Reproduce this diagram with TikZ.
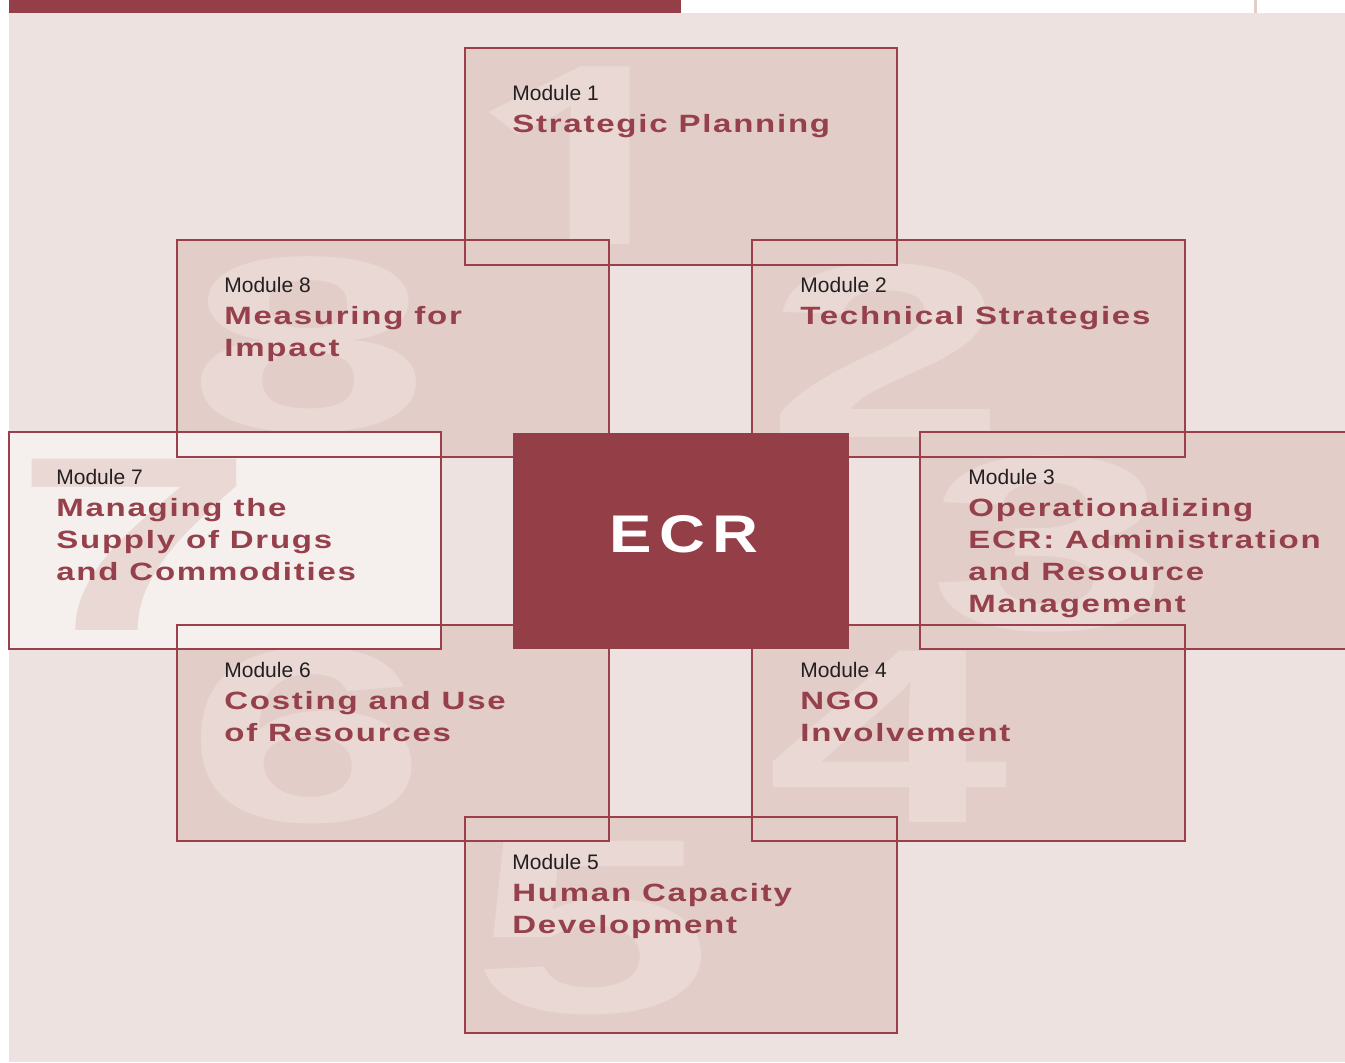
\documentclass[tikz,border=0pt]{standalone}
\usepackage{fontspec}
\usepackage{array}
\setmainfont{Liberation Sans}
\newfontfamily\titlef{Liberation Sans}[FakeStretch=1.32,LetterSpace=7]
\newfontfamily\wmf{Liberation Sans}[FakeStretch=1.75]
\newfontfamily\wmone{Open Sans}[FakeStretch=1.6]
\newfontfamily\ecrf{Liberation Sans}[FakeStretch=1.2,LetterSpace=13]
\definecolor{bg}{HTML}{EEE2E0}
\definecolor{boxfill}{HTML}{E2CDC9}
\definecolor{lightfill}{HTML}{F5EFED}
\definecolor{wmc}{HTML}{E9D8D4}
\definecolor{ecrred}{HTML}{943E48}
\definecolor{edge}{HTML}{9B3F4A}
\definecolor{labc}{HTML}{231F20}
\definecolor{ttlc}{HTML}{95404A}
\tikzset{
  boxline/.style={draw=edge, line width=0.8pt},
  wm/.style={anchor=base west, inner sep=0pt, text=wmc, font=\wmf\bfseries\fontsize{124.5}{130}\selectfont},
  modtext/.style={anchor=base west, inner sep=0pt},
}
\newcommand\ModText[2]{\fontsize{12.5}{16}\selectfont\begin{tabular}[t]{@{}>{\titlef\bfseries\color{ttlc}}l@{}}{\normalfont\mdseries\fontsize{10.5}{16}\selectfont\color{labc}#1}\\#2\end{tabular}}
\begin{document}
\begin{tikzpicture}[x=0.5pt,y=-0.5pt]
\useasboundingbox (0,0) rectangle (1345,1062);
\clip (0,0) rectangle (1345,1062);
\fill[white] (0,0) rectangle (1345,1062);
\fill[bg] (8.6,13) rectangle (1345,1062);
\fill[ecrred] (8.6,0) rectangle (681,13);
\fill[boxfill] (1254,0) rectangle (1256.5,13);
% ---- fills and watermarks
\begin{scope}
 \fill[boxfill] (465,48) rectangle (897,265); \clip (465,48) rectangle (897,265);
 \node[wm, anchor=base, font=\wmone\bfseries\fontsize{124.5}{130}\selectfont] (w1) at (579,244) {1};
\end{scope}
\begin{scope}
 \fill[boxfill] (177,240) rectangle (609,457); \clip (177,240) rectangle (609,457);
 \node[wm] (w8) at (187,430) {8};
\end{scope}
\begin{scope}
 \fill[boxfill] (752,240) rectangle (1185,457); \clip (752,240) rectangle (1185,457);
 \node[wm] (w2) at (765,437) {2};
\end{scope}
\begin{scope}
 \fill[boxfill] (177,625) rectangle (609,841); \clip (177,625) rectangle (609,841);
 \node[wm] (w6) at (185,821) {6};
\end{scope}
\begin{scope}
 \fill[boxfill] (752,625) rectangle (1185,841); \clip (752,625) rectangle (1185,841);
 \node[wm] (w4) at (766,822) {4};
\end{scope}
\begin{scope}
 \fill[boxfill] (465,817) rectangle (897,1033); \clip (465,817) rectangle (897,1033);
 \node[wm] (w5) at (471,1012) {5};
\end{scope}
\begin{scope}
 \fill[boxfill] (920,432) rectangle (1370,649); \clip (920,432) rectangle (1370,649);
 \node[wm] (w3) at (928,629) {3};
\end{scope}
\begin{scope}
 \fill[lightfill] (9,432) rectangle (441,649); \clip (9,432) rectangle (441,649);
 \node[wm] (w7) at (13,630) {7};
\end{scope}
% ---- borders
\draw[boxline] (465,48) rectangle (897,265);
\draw[boxline] (177,240) rectangle (609,457);
\draw[boxline] (752,240) rectangle (1185,457);
\draw[boxline] (177,625) rectangle (609,841);
\draw[boxline] (752,625) rectangle (1185,841);
\draw[boxline] (465,817) rectangle (897,1033);
\draw[boxline] (920,432) rectangle (1370,649);
\draw[boxline] (9,432) rectangle (441,649);
% ---- texts
\node[modtext] (m1) at (512,100) {\ModText{Module 1}{Strategic Planning}};
\node[modtext] (m8) at (224,292) {\ModText{Module 8}{Measuring for\\Impact}};
\node[modtext] (m2) at (800,292) {\ModText{Module 2}{Technical Strategies}};
\node[modtext] (m7) at (56,484) {\ModText{Module 7}{Managing the\\Supply of Drugs\\and Commodities}};
\node[modtext] (m3) at (968,484) {\ModText{Module 3}{Operationalizing\\ECR: Administration\\and Resource\\Management}};
\node[modtext] (m6) at (224,677) {\ModText{Module 6}{Costing and Use\\of Resources}};
\node[modtext] (m4) at (800,677) {\ModText{Module 4}{NGO\\Involvement}};
\node[modtext] (m5) at (512,869) {\ModText{Module 5}{Human Capacity\\Development}};
% ---- centre
\fill[ecrred] (513,433) rectangle (849,649);
\node[anchor=base, inner sep=0pt, text=white, font=\ecrf\bfseries\fontsize{26.5}{30}\selectfont] (ecr) at (684,552) {ECR};
\end{tikzpicture}
\end{document}
